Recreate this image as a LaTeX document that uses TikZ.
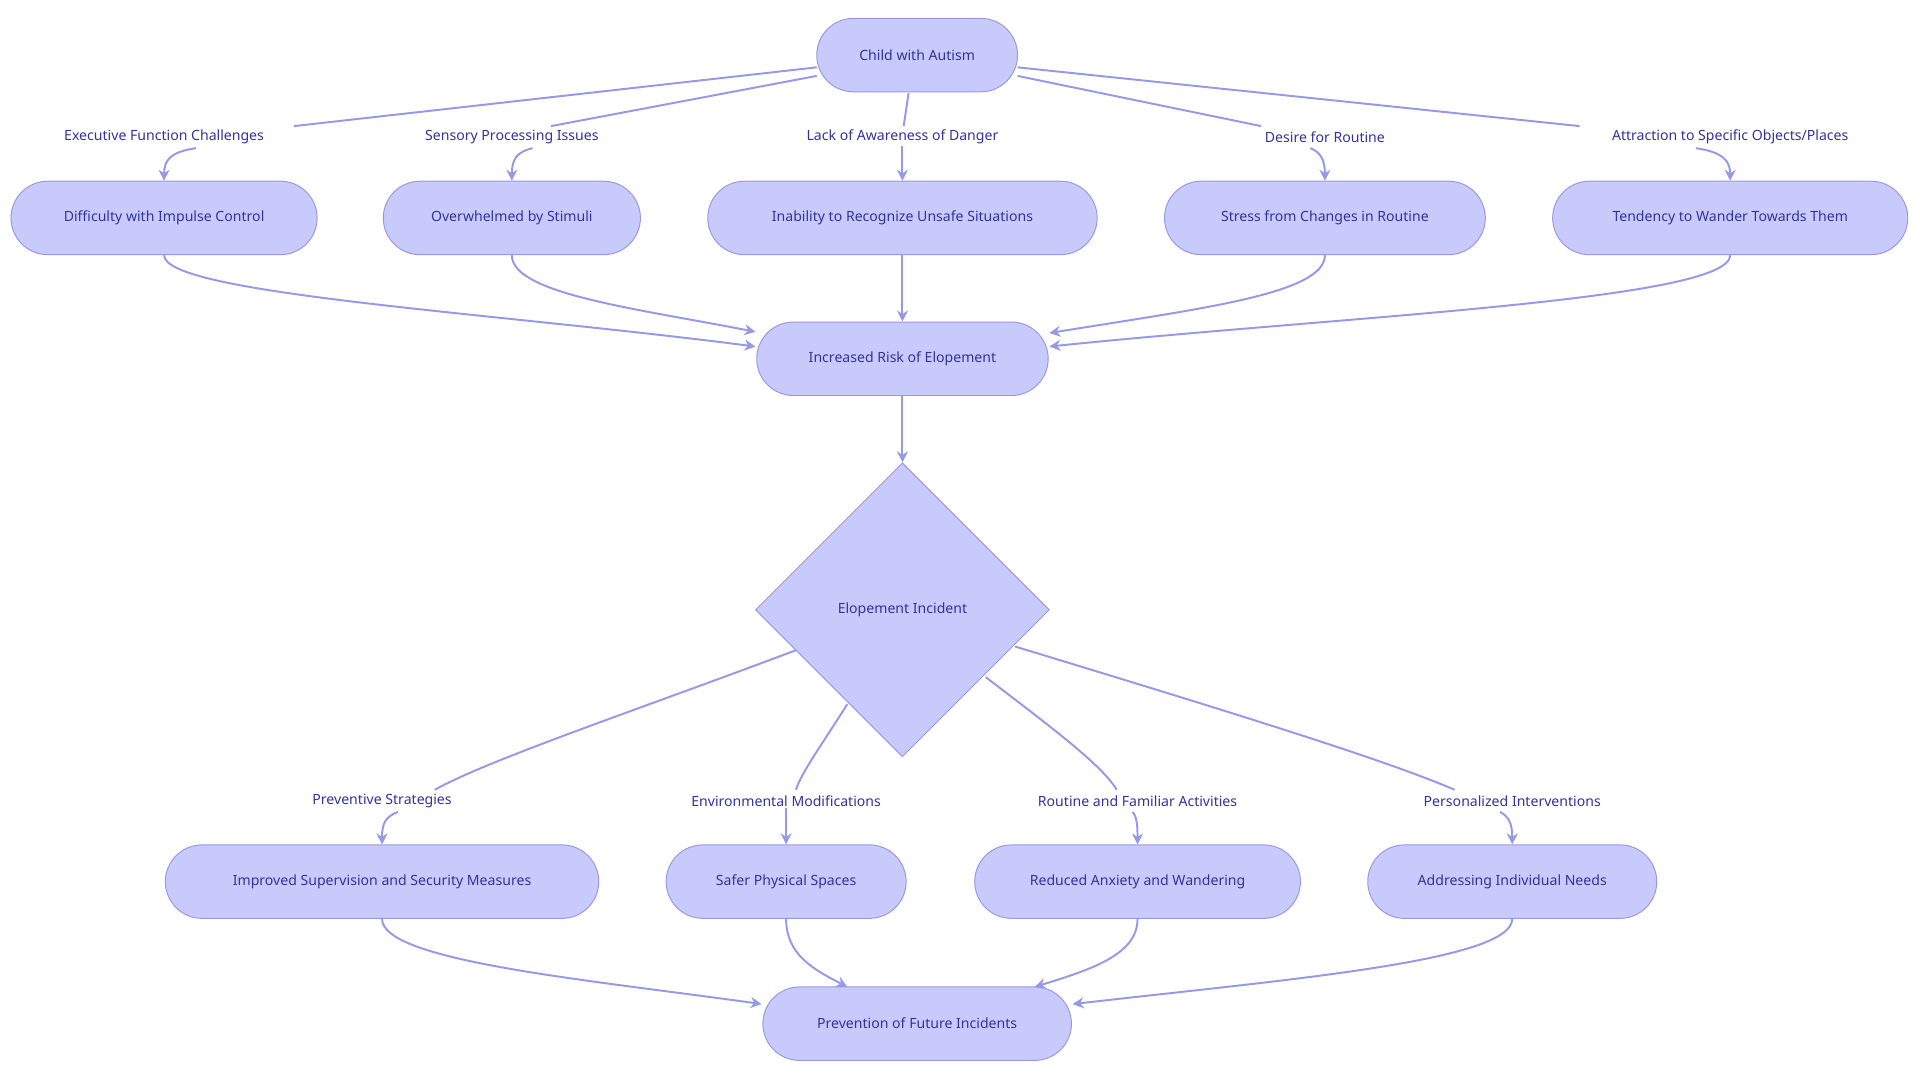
\documentclass[tikz,border=0pt]{standalone}
\usepackage{fontspec}
\setmainfont{Noto Sans}
\usetikzlibrary{shapes.geometric,arrows.meta}
\definecolor{nfill}{RGB}{200,202,252}
\definecolor{nline}{RGB}{150,153,232}
\definecolor{ntext}{RGB}{50,50,160}
\tikzset{
 box/.style={rounded corners=30pt,draw=nline,fill=nfill,line width=0.8pt,minimum height=60pt,text=ntext,font=\fontsize{11.5}{13}\selectfont,inner xsep=0pt},
 lab/.style={text=ntext,font=\fontsize{11.5}{13}\selectfont,inner sep=1pt},
 ed/.style={draw=nline,line width=1.6pt},
 ar/.style={ed,-{Stealth[length=9pt,width=9pt]}}
}
\begin{document}
\begin{tikzpicture}[x=1pt,y=-1pt]
\useasboundingbox (0,0) rectangle (1568,882);
\node[box,minimum width=164pt] (child) at (749,45) {Child with Autism};
\node[box,minimum width=250pt] (imp) at (134,178) {Difficulty with Impulse Control};
\node[box,minimum width=210pt] (stim) at (418,178) {Overwhelmed by Stimuli};
\node[box,minimum width=318pt] (unsafe) at (737,178) {Inability to Recognize Unsafe Situations};
\node[box,minimum width=262pt] (stress) at (1082,178) {Stress from Changes in Routine};
\node[box,minimum width=290pt] (wander) at (1413,178) {Tendency to Wander Towards Them};
\node[box,minimum width=238pt] (risk) at (737,293) {Increased Risk of Elopement};
\node[diamond,draw=nline,fill=nfill,line width=0.8pt,minimum width=240pt,minimum height=240pt,inner sep=0pt,text=ntext,font=\fontsize{11.5}{13}\selectfont] (inc) at (737,498) {Elopement Incident};
\node[box,minimum width=354pt] (sup) at (312,720) {Improved Supervision and Security Measures};
\node[box,minimum width=196pt] (safe) at (642,720) {Safer Physical Spaces};
\node[box,minimum width=266pt] (red) at (929,720) {Reduced Anxiety and Wandering};
\node[box,minimum width=236pt] (need) at (1235,720) {Addressing Individual Needs};
\node[box,minimum width=252pt] (prev) at (749,836) {Prevention of Future Incidents};

\node[lab] (l1) at (134,112) {Executive Function Challenges};
\node[lab] (l2) at (418,112) {Sensory Processing Issues};
\node[lab] (l3) at (737,112) {Lack of Awareness of Danger};
\node[lab] (l4) at (1082,112) {Desire for Routine};
\node[lab] (l5) at (1413,112) {Attraction to Specific Objects/Places};
\node[lab] (m1) at (312,654) {Preventive Strategies};
\node[lab] (m2) at (642,654) {Environmental Modifications};
\node[lab] (m3) at (929,654) {Routine and Familiar Activities};
\node[lab] (m4) at (1235,654) {Personalized Interventions};

\coordinate (c1) at (667,55); \coordinate (c2) at (667,62);
\coordinate (c4) at (831,62); \coordinate (c5) at (831,55);
\draw[ed] (c1) -- (240,103);
\draw[ed] (c2) -- (450,103);
\draw[ed] (742,76) -- (738,103);
\draw[ed] (c4) -- (1030,103);
\draw[ed] (c5) -- (1290,103);
\draw[ar] (160,121) .. controls (140,124) and (134,130) .. (imp.north);
\draw[ar] (435,121) .. controls (422,124) and (418,130) .. (stim.north);
\draw[ar] (l3.south) -- (unsafe.north);
\draw[ar] (1070,121) .. controls (1078,124) and (1082,130) .. (stress.north);
\draw[ar] (1385,121) .. controls (1405,124) and (1413,130) .. (wander.north);

\draw[ar] (imp.south) .. controls (134,240) and (400,255) .. (617,283);
\draw[ar] (stim.south) .. controls (418,240) and (520,252) .. (617,271);
\draw[ar] (unsafe.south) -- (risk.north);
\draw[ar] (stress.south) .. controls (1082,240) and (980,252) .. (857,272);
\draw[ar] (wander.south) .. controls (1413,245) and (1100,258) .. (857,283);
\draw[ar] (risk.south) -- (inc.north);

\draw[ed] (650,531) .. controls (520,580) and (400,620) .. (355,645);
\draw[ed] (692,575) .. controls (670,610) and (655,630) .. (650,645);
\draw[ed] (805,553) .. controls (860,595) and (900,625) .. (912,645);
\draw[ed] (829,528) .. controls (1000,580) and (1130,620) .. (1188,645);
\draw[ar] (325,663) .. controls (315,667) and (312,672) .. (sup.north);
\draw[ar] (m2.south) -- (safe.north);
\draw[ar] (925,663) .. controls (928,667) and (929,672) .. (red.north);
\draw[ar] (1225,663) .. controls (1232,667) and (1235,672) .. (need.north);

\draw[ar] (sup.south) .. controls (312,785) and (480,800) .. (622,820);
\draw[ar] (safe.south) .. controls (642,780) and (665,792) .. (692,806);
\draw[ar] (red.south) .. controls (929,780) and (890,792) .. (845,806);
\draw[ar] (need.south) .. controls (1235,785) and (1050,800) .. (876,820);
\end{tikzpicture}
\end{document}
